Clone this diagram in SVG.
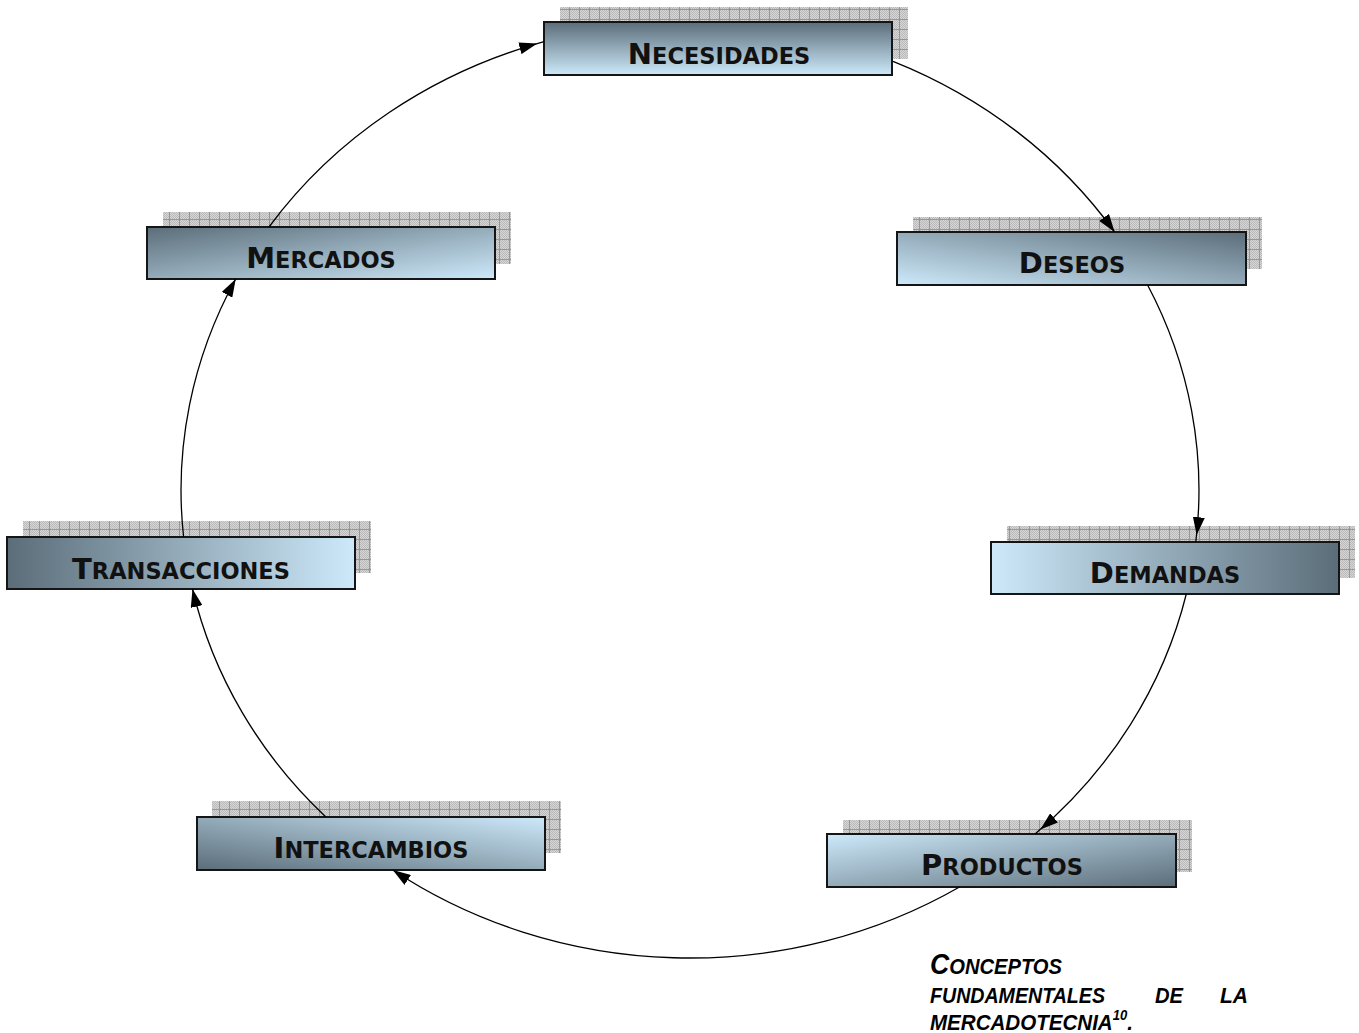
<svg xmlns="http://www.w3.org/2000/svg" xmlns:xlink="http://www.w3.org/1999/xlink" width="1359" height="1033" viewBox="0 0 1359 1033">
  <style>
    .shadow { fill: url(#grid); }
    .box { stroke: #151515; stroke-width: 2; }
    .label { font-family: "DejaVu Sans", Verdana, sans-serif; font-weight: bold; fill: #111; text-anchor: middle; }
    .label .big { font-size: 29px; }
    .label .small { font-size: 22.5px; }
    .edge { fill: none; stroke: #000; stroke-width: 1.3; }
    .caption { font-family: "Liberation Sans", Arial, sans-serif; font-weight: bold; font-style: italic; fill: #000; font-size: 22px; }
  </style>
  <defs>
    <!-- fine checker texture used inside the shadow grid -->
    <pattern id="dots" width="2" height="2" patternUnits="userSpaceOnUse">
      <rect width="2" height="2" fill="#d6d6d6"/>
      <rect width="1" height="1" fill="#bababa"/>
      <rect x="1" y="1" width="1" height="1" fill="#bababa"/>
    </pattern>
    <pattern id="grid" width="10" height="10" patternUnits="userSpaceOnUse">
      <rect width="10" height="10" fill="url(#dots)"/>
      <path d="M9.5 0V10M0 9.5H10" stroke="#969696" stroke-width="1" fill="none"/>
    </pattern>

    <!-- slate-to-sky ramp, reused in several directions -->
    <linearGradient id="ramp">
      <stop offset="0" stop-color="#5b6d79"/>
      <stop offset="1" stop-color="#cde9fa"/>
    </linearGradient>
    <linearGradient id="gNec" href="#ramp" xlink:href="#ramp" x1="0" y1="0" x2="0" y2="1"/>
    <linearGradient id="gDes" href="#ramp" xlink:href="#ramp" x1="1" y1="0" x2="0" y2="1"/>
    <linearGradient id="gDem" href="#ramp" xlink:href="#ramp" x1="1" y1="0" x2="0" y2="0"/>
    <linearGradient id="gPro" href="#ramp" xlink:href="#ramp" x1="1" y1="1" x2="0" y2="0"/>
    <linearGradient id="gInt" href="#ramp" xlink:href="#ramp" x1="0" y1="1" x2="1" y2="0"/>
    <linearGradient id="gTra" href="#ramp" xlink:href="#ramp" x1="0" y1="0" x2="1" y2="0"/>
    <linearGradient id="gMer" href="#ramp" xlink:href="#ramp" x1="0" y1="0" x2="1" y2="1"/>

    <marker id="arrow" viewBox="0 0 18 12" refX="18" refY="6" markerWidth="18" markerHeight="12" markerUnits="userSpaceOnUse" orient="auto">
      <path d="M0,0 L18,6 L0,12 Z" fill="#000"/>
    </marker>
    <marker id="arrowInset" viewBox="0 0 25 12" refX="25" refY="6" markerWidth="25" markerHeight="12" markerUnits="userSpaceOnUse" orient="auto">
      <path d="M0,0 L18,6 L0,12 Z" fill="#000"/>
    </marker>
  </defs>

  <rect width="1359" height="1033" fill="#fff"/>

  <g id="necesidades">
    <rect class="shadow" x="560" y="7" width="348" height="52"/>
    <rect class="box" x="544" y="22" width="348" height="53" fill="url(#gNec)"/>
    <text class="label" x="719" y="64"><tspan class="big">N</tspan><tspan class="small">ECESIDADES</tspan></text>
  </g>

  <g id="deseos">
    <rect class="shadow" x="913" y="217" width="349" height="52"/>
    <rect class="box" x="897" y="232" width="349" height="53" fill="url(#gDes)"/>
    <text class="label" x="1072" y="273"><tspan class="big">D</tspan><tspan class="small">ESEOS</tspan></text>
  </g>

  <g id="demandas">
    <rect class="shadow" x="1007" y="526" width="348" height="52"/>
    <rect class="box" x="991" y="542" width="348" height="52" fill="url(#gDem)"/>
    <text class="label" x="1165" y="583"><tspan class="big">D</tspan><tspan class="small">EMANDAS</tspan></text>
  </g>

  <g id="productos">
    <rect class="shadow" x="843" y="820" width="349" height="52"/>
    <rect class="box" x="827" y="834" width="349" height="53" fill="url(#gPro)"/>
    <text class="label" x="1002" y="875"><tspan class="big">P</tspan><tspan class="small">RODUCTOS</tspan></text>
  </g>

  <g id="intercambios">
    <rect class="shadow" x="212" y="801" width="349" height="52"/>
    <rect class="box" x="197" y="817" width="348" height="53" fill="url(#gInt)"/>
    <text class="label" x="371" y="858"><tspan class="big">I</tspan><tspan class="small">NTERCAMBIOS</tspan></text>
  </g>

  <g id="transacciones">
    <rect class="shadow" x="23" y="521" width="348" height="52"/>
    <rect class="box" x="7" y="537" width="348" height="52" fill="url(#gTra)"/>
    <text class="label" x="181" y="579"><tspan class="big">T</tspan><tspan class="small">RANSACCIONES</tspan></text>
  </g>

  <g id="mercados">
    <rect class="shadow" x="163" y="212" width="348" height="52"/>
    <rect class="box" x="147" y="227" width="348" height="52" fill="url(#gMer)"/>
    <text class="label" x="321" y="268"><tspan class="big">M</tspan><tspan class="small">ERCADOS</tspan></text>
  </g>

  <!-- cycle: every connector lies on one ellipse centred at (690,490), rx 509, ry 468 -->
  <g id="connectors">
    <path class="edge" d="M893,61.3 A509,468 0 0 1 1114.6,232" marker-end="url(#arrow)"/>
    <path class="edge" d="M1147.6,285 A509,468 0 0 1 1195.8,542" marker-end="url(#arrowInset)"/>
    <path class="edge" d="M1186.3,594 A509,468 0 0 1 1035,834" marker-end="url(#arrowInset)"/>
    <path class="edge" d="M959.5,887 A509,468 0 0 1 392.8,870" marker-end="url(#arrow)"/>
    <path class="edge" d="M325.9,817 A509,468 0 0 1 192.5,589" marker-end="url(#arrow)"/>
    <path class="edge" d="M183.6,537 A509,468 0 0 1 235.7,279" marker-end="url(#arrow)"/>
    <path class="edge" d="M269,227 A509,468 0 0 1 544,41.7" marker-end="url(#arrowInset)"/>
  </g>

  <g id="caption" class="caption">
    <text x="930" y="974" textLength="132" lengthAdjust="spacingAndGlyphs"><tspan font-size="29">C</tspan>ONCEPTOS</text>
    <text x="930" y="1003" textLength="175" lengthAdjust="spacingAndGlyphs">FUNDAMENTALES</text>
    <text x="1155" y="1003" textLength="28" lengthAdjust="spacingAndGlyphs">DE</text>
    <text x="1220" y="1003" textLength="28" lengthAdjust="spacingAndGlyphs">LA</text>
    <text x="930" y="1030" textLength="203" lengthAdjust="spacingAndGlyphs">MERCADOTECNIA<tspan dy="-10" font-size="14">10</tspan><tspan dy="10">.</tspan></text>
  </g>
</svg>
